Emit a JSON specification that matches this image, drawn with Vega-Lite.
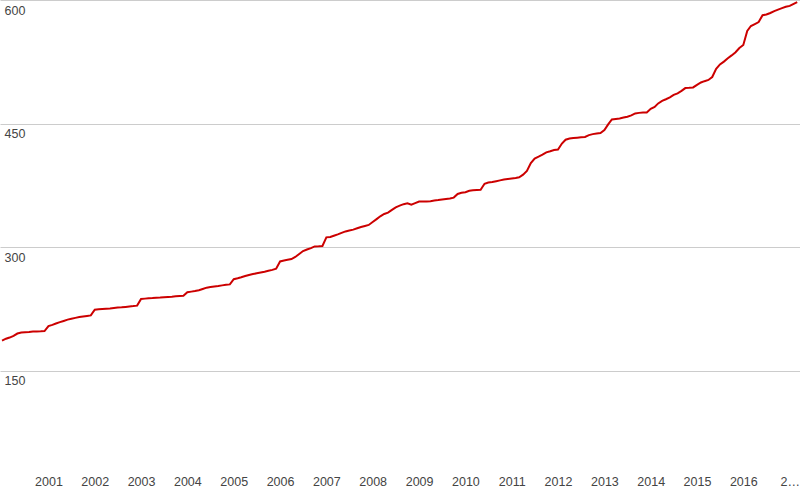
{
  "$schema": "https://vega.github.io/schema/vega-lite/v6.json",
  "width": 800,
  "height": 494,
  "autosize": {"type": "fit", "contains": "padding"},
  "padding": 0,
  "background": "white",
  "data": {
    "values": [
      {"date": "2000-01-01", "value": 186.2}, {"date": "2000-02-01", "value": 188.6}, {"date": "2000-03-01", "value": 190.0},
      {"date": "2000-04-01", "value": 192.1}, {"date": "2000-05-01", "value": 194.9}, {"date": "2000-06-01", "value": 196.2},
      {"date": "2000-07-01", "value": 196.6}, {"date": "2000-08-01", "value": 196.9}, {"date": "2000-09-01", "value": 197.4},
      {"date": "2000-10-01", "value": 197.5}, {"date": "2000-11-01", "value": 197.6}, {"date": "2000-12-01", "value": 197.9},
      {"date": "2001-01-01", "value": 203.9}, {"date": "2001-02-01", "value": 205.4}, {"date": "2001-03-01", "value": 207.1},
      {"date": "2001-04-01", "value": 208.7}, {"date": "2001-05-01", "value": 210.2}, {"date": "2001-06-01", "value": 211.8},
      {"date": "2001-07-01", "value": 212.9}, {"date": "2001-08-01", "value": 213.9}, {"date": "2001-09-01", "value": 214.9},
      {"date": "2001-10-01", "value": 215.6}, {"date": "2001-11-01", "value": 216.3}, {"date": "2001-12-01", "value": 216.9},
      {"date": "2002-01-01", "value": 223.9}, {"date": "2002-02-01", "value": 224.4}, {"date": "2002-03-01", "value": 224.8},
      {"date": "2002-04-01", "value": 225.1}, {"date": "2002-05-01", "value": 225.4}, {"date": "2002-06-01", "value": 225.9},
      {"date": "2002-07-01", "value": 226.4}, {"date": "2002-08-01", "value": 226.7}, {"date": "2002-09-01", "value": 227.2},
      {"date": "2002-10-01", "value": 227.7}, {"date": "2002-11-01", "value": 228.2}, {"date": "2002-12-01", "value": 228.8},
      {"date": "2003-01-01", "value": 236.9}, {"date": "2003-02-01", "value": 237.3}, {"date": "2003-03-01", "value": 237.7},
      {"date": "2003-04-01", "value": 238.0}, {"date": "2003-05-01", "value": 238.4}, {"date": "2003-06-01", "value": 238.6},
      {"date": "2003-07-01", "value": 239.0}, {"date": "2003-08-01", "value": 239.4}, {"date": "2003-09-01", "value": 239.7},
      {"date": "2003-10-01", "value": 240.1}, {"date": "2003-11-01", "value": 240.5}, {"date": "2003-12-01", "value": 240.8},
      {"date": "2004-01-01", "value": 245.0}, {"date": "2004-02-01", "value": 245.8}, {"date": "2004-03-01", "value": 246.5},
      {"date": "2004-04-01", "value": 247.5}, {"date": "2004-05-01", "value": 249.0}, {"date": "2004-06-01", "value": 250.6},
      {"date": "2004-07-01", "value": 251.3}, {"date": "2004-08-01", "value": 251.9}, {"date": "2004-09-01", "value": 252.6},
      {"date": "2004-10-01", "value": 253.4}, {"date": "2004-11-01", "value": 254.1}, {"date": "2004-12-01", "value": 254.6},
      {"date": "2005-01-01", "value": 260.9}, {"date": "2005-02-01", "value": 262.0}, {"date": "2005-03-01", "value": 263.2},
      {"date": "2005-04-01", "value": 264.7}, {"date": "2005-05-01", "value": 266.0}, {"date": "2005-06-01", "value": 267.1},
      {"date": "2005-07-01", "value": 268.1}, {"date": "2005-08-01", "value": 269.0}, {"date": "2005-09-01", "value": 270.0},
      {"date": "2005-10-01", "value": 271.1}, {"date": "2005-11-01", "value": 272.2}, {"date": "2005-12-01", "value": 273.7},
      {"date": "2006-01-01", "value": 282.5}, {"date": "2006-02-01", "value": 283.5}, {"date": "2006-03-01", "value": 284.4},
      {"date": "2006-04-01", "value": 285.3}, {"date": "2006-05-01", "value": 287.9}, {"date": "2006-06-01", "value": 291.5},
      {"date": "2006-07-01", "value": 295.1}, {"date": "2006-08-01", "value": 296.9}, {"date": "2006-09-01", "value": 298.7},
      {"date": "2006-10-01", "value": 300.7}, {"date": "2006-11-01", "value": 300.9}, {"date": "2006-12-01", "value": 301.2},
      {"date": "2007-01-01", "value": 311.7}, {"date": "2007-02-01", "value": 312.2}, {"date": "2007-03-01", "value": 313.7},
      {"date": "2007-04-01", "value": 315.3}, {"date": "2007-05-01", "value": 317.1}, {"date": "2007-06-01", "value": 318.9},
      {"date": "2007-07-01", "value": 320.1}, {"date": "2007-08-01", "value": 321.1}, {"date": "2007-09-01", "value": 322.7},
      {"date": "2007-10-01", "value": 324.3}, {"date": "2007-11-01", "value": 325.6}, {"date": "2007-12-01", "value": 326.8},
      {"date": "2008-01-01", "value": 330.3}, {"date": "2008-02-01", "value": 333.9}, {"date": "2008-03-01", "value": 337.3},
      {"date": "2008-04-01", "value": 340.1}, {"date": "2008-05-01", "value": 341.7}, {"date": "2008-06-01", "value": 345.1},
      {"date": "2008-07-01", "value": 348.2}, {"date": "2008-08-01", "value": 350.2}, {"date": "2008-09-01", "value": 352.0},
      {"date": "2008-10-01", "value": 353.0}, {"date": "2008-11-01", "value": 351.3}, {"date": "2008-12-01", "value": 353.2},
      {"date": "2009-01-01", "value": 355.2}, {"date": "2009-02-01", "value": 355.3}, {"date": "2009-03-01", "value": 355.4},
      {"date": "2009-04-01", "value": 355.6}, {"date": "2009-05-01", "value": 356.4}, {"date": "2009-06-01", "value": 357.0},
      {"date": "2009-07-01", "value": 357.7}, {"date": "2009-08-01", "value": 358.4}, {"date": "2009-09-01", "value": 358.9},
      {"date": "2009-10-01", "value": 360.0}, {"date": "2009-11-01", "value": 364.4}, {"date": "2009-12-01", "value": 365.9},
      {"date": "2010-01-01", "value": 366.6}, {"date": "2010-02-01", "value": 368.2}, {"date": "2010-03-01", "value": 368.9},
      {"date": "2010-04-01", "value": 369.3}, {"date": "2010-05-01", "value": 369.6}, {"date": "2010-06-01", "value": 376.8},
      {"date": "2010-07-01", "value": 378.3}, {"date": "2010-08-01", "value": 378.9}, {"date": "2010-09-01", "value": 379.9},
      {"date": "2010-10-01", "value": 380.9}, {"date": "2010-11-01", "value": 382.0}, {"date": "2010-12-01", "value": 382.6},
      {"date": "2011-01-01", "value": 383.3}, {"date": "2011-02-01", "value": 383.9}, {"date": "2011-03-01", "value": 384.7},
      {"date": "2011-04-01", "value": 387.8}, {"date": "2011-05-01", "value": 392.3}, {"date": "2011-06-01", "value": 402.0},
      {"date": "2011-07-01", "value": 407.5}, {"date": "2011-08-01", "value": 409.7}, {"date": "2011-09-01", "value": 412.1},
      {"date": "2011-10-01", "value": 415.0}, {"date": "2011-11-01", "value": 416.3}, {"date": "2011-12-01", "value": 417.7},
      {"date": "2012-01-01", "value": 418.3}, {"date": "2012-02-01", "value": 425.7}, {"date": "2012-03-01", "value": 430.3},
      {"date": "2012-04-01", "value": 431.7}, {"date": "2012-05-01", "value": 432.3}, {"date": "2012-06-01", "value": 432.8},
      {"date": "2012-07-01", "value": 433.2}, {"date": "2012-08-01", "value": 433.7}, {"date": "2012-09-01", "value": 435.9},
      {"date": "2012-10-01", "value": 437.1}, {"date": "2012-11-01", "value": 437.9}, {"date": "2012-12-01", "value": 438.4},
      {"date": "2013-01-01", "value": 441.9}, {"date": "2013-02-01", "value": 449.2}, {"date": "2013-03-01", "value": 454.9},
      {"date": "2013-04-01", "value": 455.5}, {"date": "2013-05-01", "value": 456.1}, {"date": "2013-06-01", "value": 457.2},
      {"date": "2013-07-01", "value": 458.3}, {"date": "2013-08-01", "value": 459.8}, {"date": "2013-09-01", "value": 462.2},
      {"date": "2013-10-01", "value": 462.9}, {"date": "2013-11-01", "value": 463.4}, {"date": "2013-12-01", "value": 463.4},
      {"date": "2014-01-01", "value": 467.8}, {"date": "2014-02-01", "value": 470.0}, {"date": "2014-03-01", "value": 474.4},
      {"date": "2014-04-01", "value": 477.5}, {"date": "2014-05-01", "value": 479.5}, {"date": "2014-06-01", "value": 481.7},
      {"date": "2014-07-01", "value": 484.8}, {"date": "2014-08-01", "value": 486.6}, {"date": "2014-09-01", "value": 489.6},
      {"date": "2014-10-01", "value": 493.0}, {"date": "2014-11-01", "value": 493.3}, {"date": "2014-12-01", "value": 493.8},
      {"date": "2015-01-01", "value": 496.9}, {"date": "2015-02-01", "value": 499.8}, {"date": "2015-03-01", "value": 501.4},
      {"date": "2015-04-01", "value": 502.9}, {"date": "2015-05-01", "value": 506.5}, {"date": "2015-06-01", "value": 516.4},
      {"date": "2015-07-01", "value": 521.8}, {"date": "2015-08-01", "value": 525.2}, {"date": "2015-09-01", "value": 529.2},
      {"date": "2015-10-01", "value": 532.7}, {"date": "2015-11-01", "value": 536.5}, {"date": "2015-12-01", "value": 541.6},
      {"date": "2016-01-01", "value": 545.3}, {"date": "2016-02-01", "value": 562.5}, {"date": "2016-03-01", "value": 568.4},
      {"date": "2016-04-01", "value": 570.8}, {"date": "2016-05-01", "value": 573.2}, {"date": "2016-06-01", "value": 581.5},
      {"date": "2016-07-01", "value": 582.4}, {"date": "2016-08-01", "value": 584.2}, {"date": "2016-09-01", "value": 586.5},
      {"date": "2016-10-01", "value": 588.3}, {"date": "2016-11-01", "value": 590.2}, {"date": "2016-12-01", "value": 591.7},
      {"date": "2017-01-01", "value": 592.8}, {"date": "2017-02-01", "value": 595.3}, {"date": "2017-03-01", "value": 597.5}
    ]
  },
  "mark": {"type": "line", "color": "#cc0000", "strokeWidth": 2, "clip": true},
  "encoding": {
    "x": {
      "field": "date",
      "type": "temporal",
      "title": null,
      "scale": {
        "type": "utc",
        "domain": [
          {"year": 1999, "month": 12, "date": 16, "utc": true},
          {"year": 2017, "month": 3, "date": 23, "utc": true}
        ]
      },
      "axis": {
        "tickCount": {"interval": "year", "step": 1},
        "format": "%Y",
        "labelExpr": "utcyear(datum.value) < 2001 ? '' : utcyear(datum.value) > 2016 ? '2…' : datum.label",
        "grid": false,
        "ticks": false,
        "tickSize": 0,
        "domain": true,
        "domainColor": "#333333",
        "domainWidth": 1,
        "labelBaseline": "alphabetic",
        "labelPadding": -9,
        "labelFlush": false,
        "labelOverlap": false,
        "labelAlign": "center"
      }
    },
    "y": {
      "field": "value",
      "type": "quantitative",
      "title": null,
      "scale": {"domain": [0, 600], "nice": false, "zero": true},
      "axis": {
        "values": [150, 300, 450, 600],
        "grid": true,
        "gridColor": "#cccccc",
        "gridWidth": 1,
        "domain": false,
        "ticks": false,
        "tickSize": 0,
        "labelAlign": "left",
        "labelBaseline": "top",
        "labelPadding": -4,
        "labelOffset": 4,
        "labelFlush": false,
        "labelOverlap": false
      }
    }
  },
  "config": {
    "view": {"stroke": null},
    "axis": {
      "labelFont": "Liberation Sans",
      "labelFontSize": 12.5,
      "labelColor": "#444444"
    }
  }
}
